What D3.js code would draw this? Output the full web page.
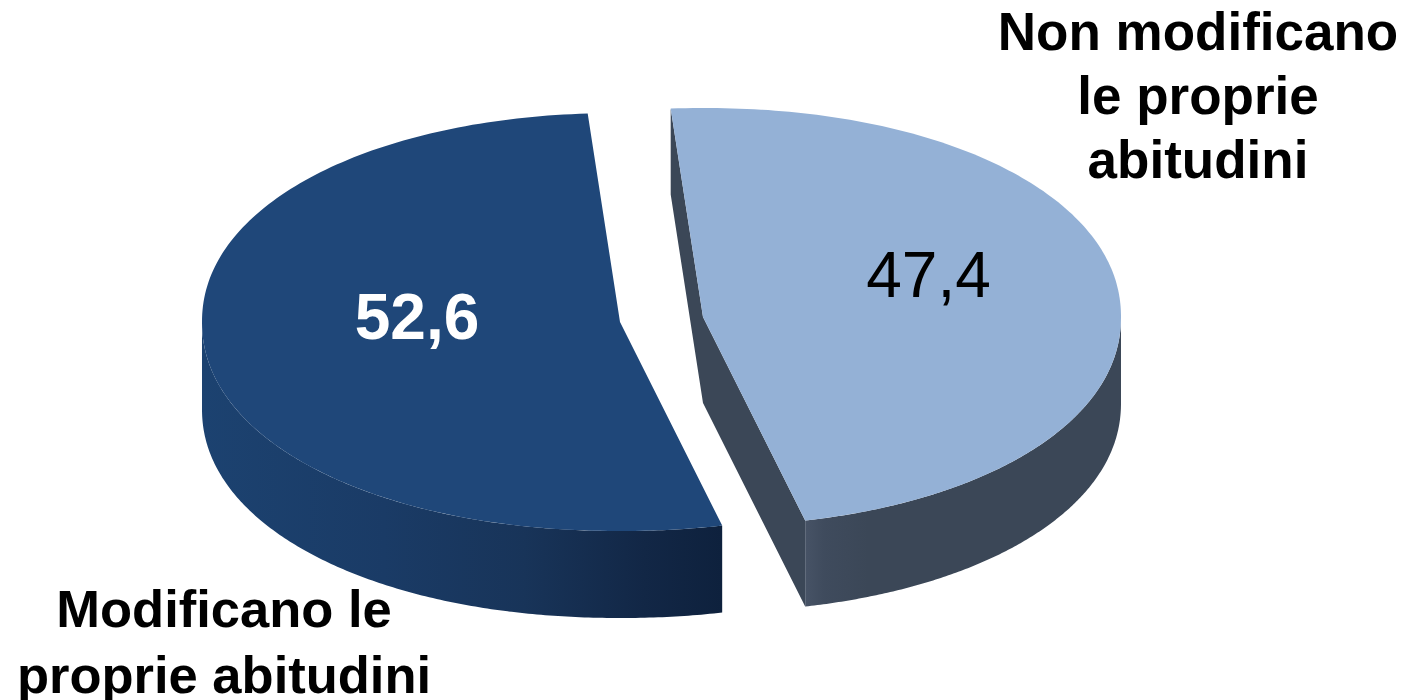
<!DOCTYPE html>
<html><head><meta charset="utf-8">
<script src="https://cdn.jsdelivr.net/npm/d3@7/dist/d3.min.js"></script>
<style>html,body{margin:0;padding:0;background:#fff;overflow:hidden}svg{display:block}text{font-family:"Liberation Sans",Arial,sans-serif}</style>
</head><body><svg id="c" width="1403" height="700"></svg>
<script>
const categories = ["Non modificano le proprie abitudini", "Modificano le proprie abitudini"];
const values = [47.4, 52.6];
const valueLabels = ["47,4", "52,6"];
const topColors = ["#94b1d6", "#1f4779"];
const labelLines = [["Non modificano", "le proprie", "abitudini"], ["Modificano le", "proprie abitudini"]];

const W = 1403, H = 700, rx = 418, ry = 209, shape = 2 / 2.08;
const depths = [86, 87];
const centers = [[703, 317], [620, 322]];
const valuePos = [[928.5, 297], [417, 339]];
const labelPos = [[1198, 50, 64, 53], [224, 627, 66, 52.5]];
const labelFill = ["#000", "#fff"];
const svg = d3.select("#c");
const defs = svg.append("defs");

const start = -4 * Math.PI / 180;
const arcs = d3.pie().sort(null).startAngle(start).endAngle(start + 2 * Math.PI)(values);
const pw = v => Math.sign(v) * Math.pow(Math.abs(v), shape);
const px = (c, a) => [c[0] + rx * pw(Math.sin(a)), c[1] - ry * pw(Math.cos(a))];
const line = d3.line();
const samples = (c, a0, a1) => d3.range(0, 181).map(i => px(c, a0 + (a1 - a0) * i / 180));

const g0 = defs.append("linearGradient").attr("id", "w0").attr("gradientUnits", "userSpaceOnUse")
  .attr("x1", 805).attr("x2", 1122).attr("y1", 0).attr("y2", 0);
[[0, "#475366"], [0.06, "#3f4b5d"], [0.2, "#3b4757"], [1, "#3b4757"]].forEach(s => g0.append("stop").attr("offset", s[0]).attr("stop-color", s[1]));
const g1 = defs.append("linearGradient").attr("id", "w1").attr("gradientUnits", "userSpaceOnUse")
  .attr("x1", 202).attr("x2", 722).attr("y1", 0).attr("y2", 0);
[[0, "#1c4270"], [0.35, "#1a3b66"], [0.62, "#183459"], [0.85, "#122746"], [1, "#0e213d"]].forEach(s => g1.append("stop").attr("offset", s[0]).attr("stop-color", s[1]));

[1, 0].forEach(i => {
  const d = arcs[i], c = centers[i], g = svg.append("g");
  const down = p => [p[0], p[1] + depths[i]];
  if (i === 0) {
    const top = px(c, d.startAngle), bot = px(c, d.endAngle);
    g.append("path").attr("fill", "#3b4757")
      .attr("d", line([top, c, bot, down(bot), down(c), down(top)]) + "Z");
    const pts = samples(c, Math.PI / 2, d.endAngle);
    g.append("path").attr("fill", "url(#w0)")
      .attr("d", line(pts.concat(pts.map(down).reverse())) + "Z");
  } else {
    const pts = samples(c, d.startAngle, 3 * Math.PI / 2);
    g.append("path").attr("fill", "url(#w1)")
      .attr("d", line(pts.concat(pts.map(down).reverse())) + "Z");
  }
  g.append("path").attr("fill", topColors[i])
    .attr("d", line([c].concat(samples(c, d.startAngle, d.endAngle))) + "Z");
  g.append("text").attr("x", valuePos[i][0]).attr("y", valuePos[i][1])
    .attr("text-anchor", "middle").attr("font-size", 64)
    .attr("font-weight", i === 1 ? "bold" : "normal").attr("fill", labelFill[i]).text(valueLabels[i]);
  labelLines[i].forEach((t, k) => {
    svg.append("text").attr("x", labelPos[i][0]).attr("y", labelPos[i][1] + k * labelPos[i][2])
      .attr("text-anchor", "middle").attr("font-size", labelPos[i][3]).attr("font-weight", "bold").attr("fill", "#000").text(t);
  });
});
</script></body></html>
